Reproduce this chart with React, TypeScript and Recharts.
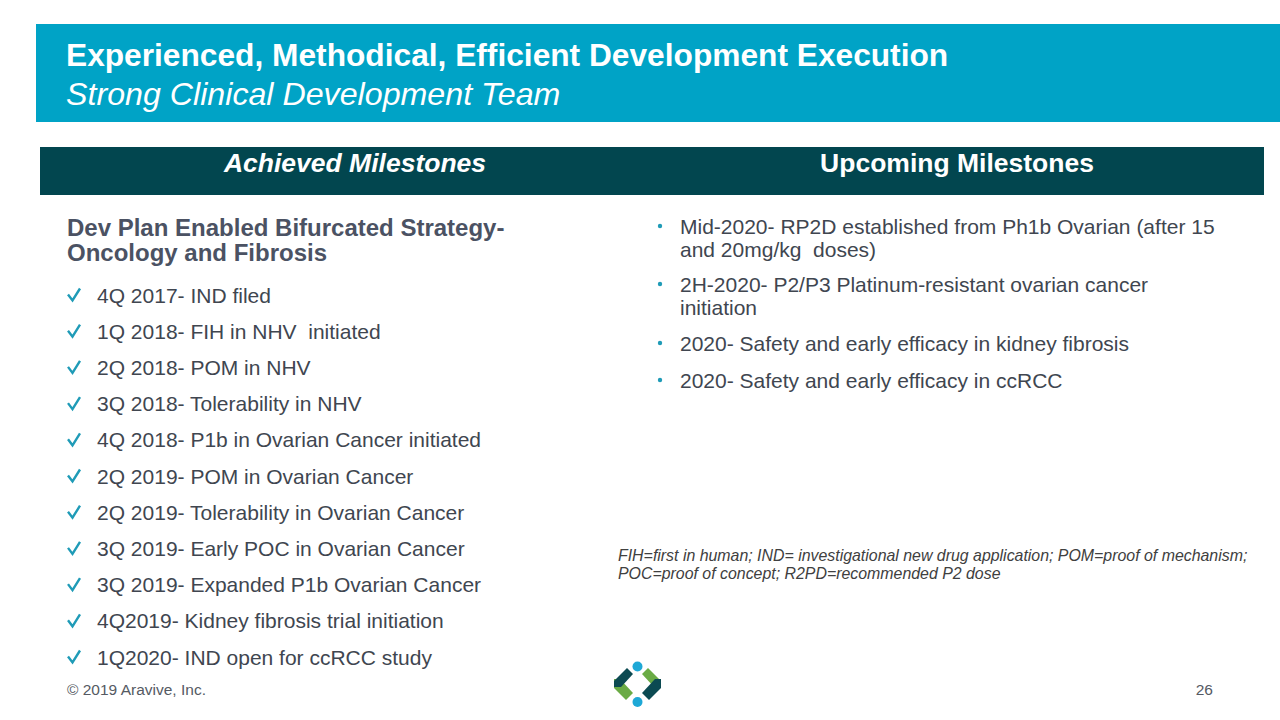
import React from "react"
import { ComposedChart, XAxis, YAxis, Customized } from "recharts"

// slide text content
const titleText = "Experienced, Methodical, Efficient Development Execution"
const subtitleText = "Strong Clinical Development Team"
const columnHeads = ["Achieved Milestones", "Upcoming Milestones"]
const leftHeading = ["Dev Plan Enabled Bifurcated Strategy-", "Oncology and Fibrosis"]
const achieved = [
  "4Q 2017- IND filed",
  "1Q 2018- FIH in NHV  initiated",
  "2Q 2018- POM in NHV",
  "3Q 2018- Tolerability in NHV",
  "4Q 2018- P1b in Ovarian Cancer initiated",
  "2Q 2019- POM in Ovarian Cancer",
  "2Q 2019- Tolerability in Ovarian Cancer",
  "3Q 2019- Early POC in Ovarian Cancer",
  "3Q 2019- Expanded P1b Ovarian Cancer",
  "4Q2019- Kidney fibrosis trial initiation",
  "1Q2020- IND open for ccRCC study",
]
const upcoming = [
  ["Mid-2020- RP2D established from Ph1b Ovarian (after 15", "and 20mg/kg  doses)"],
  ["2H-2020- P2/P3 Platinum-resistant ovarian cancer", "initiation"],
  ["2020- Safety and early efficacy in kidney fibrosis"],
  ["2020- Safety and early efficacy in ccRCC"],
]
const footnote = [
  "FIH=first in human; IND= investigational new drug application; POM=proof of mechanism;",
  "POC=proof of concept; R2PD=recommended P2 dose",
]
const copyright = "© 2019 Aravive, Inc."
const pageNo = "26"

const FONT = "'Liberation Sans', Arial, sans-serif"
const TEAL = "#00a3c6"
const DARK = "#02464f"
const TEXT = "#404650"

function Banners() {
  return (
    <g>
      <rect x={36} y={24} width={1244} height={98} fill={TEAL} />
      <rect x={40} y={147} width={1224} height={48} fill={DARK} />
    </g>
  )
}

function SlideText() {
  const upStarts = [234, 292, 351, 388]
  return (
    <g fontFamily={FONT}>
      <text x={66} y={66} fontSize={31.7} fontWeight="bold" fill="#fff">{titleText}</text>
      <text x={66} y={105} fontSize={32.2} fontStyle="italic" fill="#fff">{subtitleText}</text>

      <text x={355} y={172} fontSize={26.5} fontWeight="bold" fontStyle="italic" fill="#fff" textAnchor="middle">{columnHeads[0]}</text>
      <text x={957} y={172} fontSize={26.5} fontWeight="bold" fill="#fff" textAnchor="middle">{columnHeads[1]}</text>

      {leftHeading.map((t, i) => (
        <text key={t} x={67} y={236 + i * 25} fontSize={24} fontWeight="bold" fill="#4b5263">{t}</text>
      ))}

      {achieved.map((t, i) => {
        const b = 302.5 + i * 36.2
        return (
          <g key={t}>
            <path d={`M68 ${b - 8} L72.5 ${b - 2} L80 ${b - 14}`} fill="none" stroke="#1f9bb7" strokeWidth={2.4} />
            <text x={97} y={b} fontSize={21} fill={TEXT} style={{ whiteSpace: "pre" }}>{t}</text>
          </g>
        )
      })}

      {upcoming.map((lines, i) => (
        <g key={i}>
          <circle cx={660} cy={upStarts[i] - 8} r={2.2} fill="#1f9bb7" />
          {lines.map((t, j) => (
            <text key={j} x={680} y={upStarts[i] + j * 23} fontSize={21} fill={TEXT} style={{ whiteSpace: "pre" }}>{t}</text>
          ))}
        </g>
      ))}

      {footnote.map((t, i) => (
        <text key={i} x={618} y={560.5 + i * 18.5} fontSize={15.9} fontStyle="italic" fill="#404040">{t}</text>
      ))}

      <text x={67} y={694.5} fontSize={15.5} fill="#555a63">{copyright}</text>
      <text x={1213} y={694.5} fontSize={15.5} fill="#555a63" textAnchor="end">{pageNo}</text>
    </g>
  )
}

function Logo() {
  const green = "#6aab45"
  const dark = "#0c4a52"
  return (
    <g>
      <polygon points="614,679 620,679 633,693 626,700 614,688" fill={green} />
      <polygon points="614,681 627,668 633,674 621,687 614,687" fill={dark} />
      <polygon points="661,681 648,668 642,674 654,687 661,687" fill={green} />
      <polygon points="661,679 655,679 642,693 649,700 661,688" fill={dark} />
      <circle cx={637.5} cy={666.5} r={5} fill="#1ea8d6" />
      <circle cx={637.5} cy={702} r={5} fill="#1ea8d6" />
    </g>
  )
}

export default function App() {
  return (
    <div style={{ position: "absolute", left: 0, top: 0, width: 1280, height: 720, background: "#fff" }}>
      <ComposedChart width={1280} height={720} margin={{ top: 0, right: 0, bottom: 0, left: 0 }} data={[]}>
        <XAxis type="number" dataKey="x" domain={[0, 1280]} hide />
        <YAxis type="number" dataKey="y" domain={[0, 720]} reversed hide />
        <Customized component={Banners} />
        <Customized component={SlideText} />
        <Customized component={Logo} />
      </ComposedChart>
    </div>
  )
}
